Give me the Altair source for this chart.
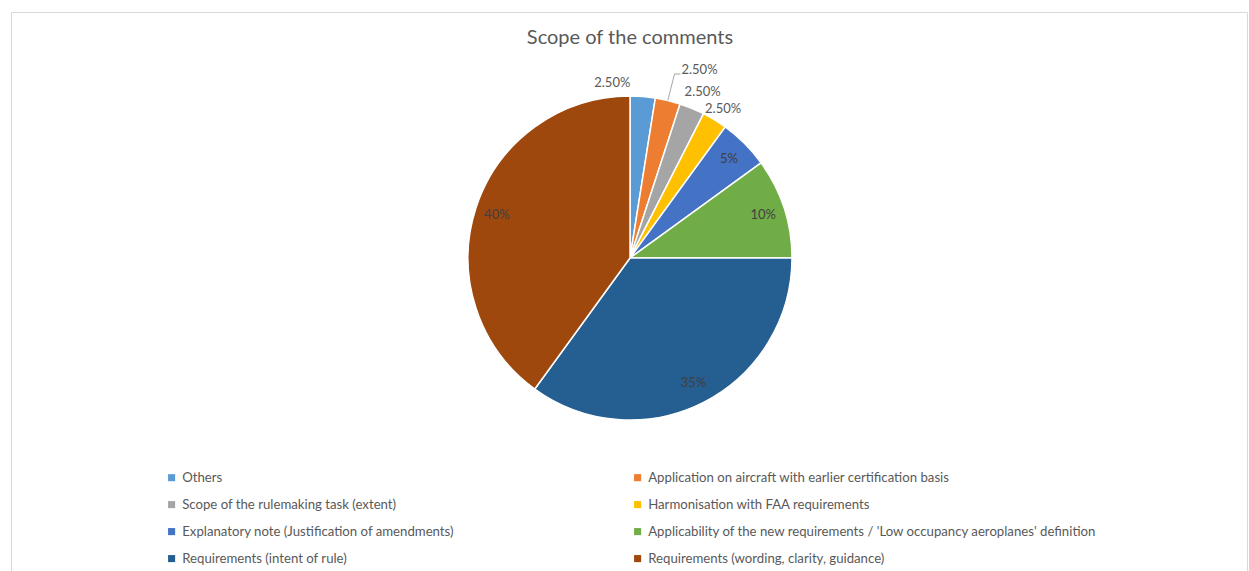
import altair as alt
import pandas as pd

title_text = "Scope of the comments"
categories = [
    "Others",
    "Application on aircraft with earlier certification basis",
    "Scope of the rulemaking task (extent)",
    "Harmonisation with FAA requirements",
    "Explanatory note (Justification of amendments)",
    "Applicability of the new requirements / 'Low occupancy aeroplanes' definition",
    "Requirements (intent of rule)",
    "Requirements (wording, clarity, guidance)",
]
shares = [2.5, 2.5, 2.5, 2.5, 5, 10, 35, 40]
labels = ["2.50%", "2.50%", "2.50%", "2.50%", "5%", "10%", "35%", "40%"]
colors = ["#5B9BD5", "#ED7D31", "#A5A5A5", "#FFC000", "#4472C4", "#70AD47", "#255E91", "#9E480E"]

df = pd.DataFrame({"category": categories, "share": shares, "label": labels,
                   "order": list(range(len(categories)))})

# legend fills column by column; reorder so that it reads row by row like the original
legend_order = categories[0::2] + categories[1::2]

FONT = "Lato"
CX, CY = 619, 246
R = 162
LR = 182  # radius of outside labels
TWO_PI = 6.283185307179586

base = alt.Chart(df)

pie = base.mark_arc(outerRadius=R, stroke="white", strokeWidth=1.5).encode(
    theta=alt.Theta("share:Q", stack=True),
    order=alt.Order("order:Q", sort="ascending"),
    x=alt.value(CX),
    y=alt.value(CY),
    color=alt.Color(
        "category:N",
        scale=alt.Scale(domain=categories, range=colors),
        legend=alt.Legend(
            title=None,
            values=legend_order,
            orient="none",
            legendX=154,
            legendY=459,
            columns=2,
            columnPadding=176,
            rowPadding=13.0,
            symbolType="square",
            symbolSize=50,
            symbolStrokeWidth=0,
            labelFont=FONT,
            labelFontSize=13.2,
            labelColor="#595959",
            labelLimit=700,
            labelOffset=4,
        ),
    ),
)

stacked = base.transform_joinaggregate(total="sum(share)").transform_window(
    cum="sum(share)", sort=[alt.SortField("order")], frame=[None, 0]
).transform_calculate(
    mid="(datum.cum - datum.share / 2) / datum.total * 2 * PI"
)


def stacked_label(filt, radius, dx=0, dy=0, color="#404040"):
    return stacked.transform_filter(filt).mark_text(
        font=FONT, fontSize=13, color=color, dx=dx, dy=dy
    ).encode(
        theta=alt.Theta("mid:Q", scale=alt.Scale(domain=[0, TWO_PI], range=[0, TWO_PI])),
        radius=alt.value(radius),
        x=alt.value(CX),
        y=alt.value(CY),
        text="label:N",
    )


inside = stacked_label("datum.share >= 5", 140, color="#404040")
out_others = stacked_label("datum.order == 0", LR, dx=-32, dy=6, color="#595959")
out_app = stacked_label("datum.order == 1", LR, dx=27, dy=-11, color="#595959")
out_scope = stacked_label("datum.order == 2", LR, dx=3, dy=2, color="#595959")
out_harm = stacked_label("datum.order == 3", LR, dx=-2, dy=6, color="#595959")

# leader line for the label pushed away from its slice (Application ...)
leader = stacked.transform_filter("datum.order == 1").transform_calculate(
    sx=f"{CX} + {R} * sin(datum.mid)",
    sy=f"{CY} - {R} * cos(datum.mid)",
    lx=f"{CX} + {LR} * sin(datum.mid) + 27 - 19",
    ly=f"{CY} - {LR} * cos(datum.mid) - 11 + 4",
).transform_calculate(
    ex="datum.lx - 6",
    ey="datum.ly",
)
leader1 = leader.mark_rule(color="#a6a6a6", strokeWidth=1).encode(
    x=alt.X("sx:Q", scale=None, axis=None),
    y=alt.Y("sy:Q", scale=None, axis=None),
    x2="ex:Q",
    y2="ey:Q",
)
leader2 = leader.mark_rule(color="#a6a6a6", strokeWidth=1).encode(
    x=alt.X("ex:Q", scale=None, axis=None),
    y=alt.Y("ey:Q", scale=None, axis=None),
    x2="lx:Q",
    y2="ly:Q",
)

title = alt.Chart(pd.DataFrame({"t": [title_text]})).mark_text(
    font=FONT, fontSize=20, color="#595959"
).encode(text="t:N", x=alt.value(CX), y=alt.value(26))

chart = alt.layer(
    pie, leader1, leader2, inside, out_others, out_app, out_scope, out_harm, title
).properties(
    width=1236,
    height=559,
    padding={"left": 11, "top": 12, "right": 2, "bottom": 0},
    autosize=alt.AutoSizeParams(type="none"),
    background="white",
).configure_view(stroke="#d9d9d9", strokeWidth=1).resolve_scale(theta="independent")

chart.save("out.html", embed_options={"renderer": "svg", "actions": False})
